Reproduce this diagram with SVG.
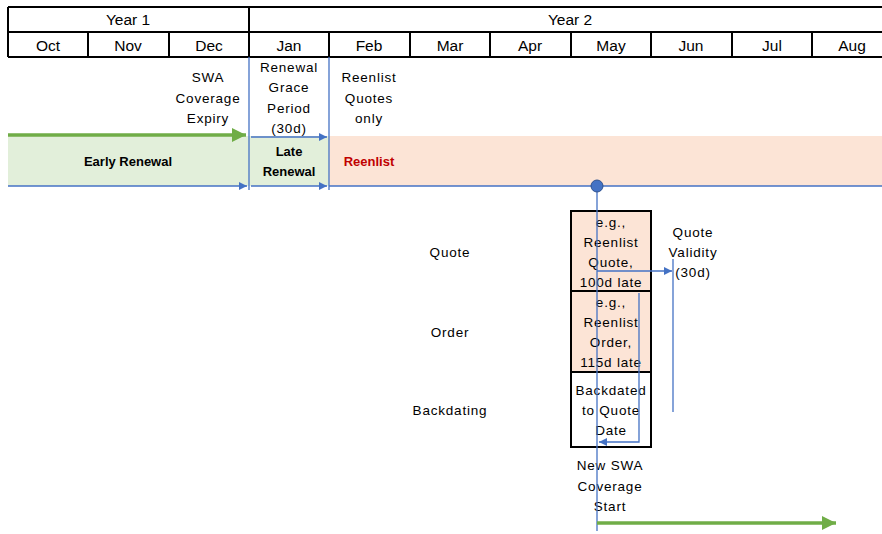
<svg xmlns="http://www.w3.org/2000/svg" width="882" height="534" viewBox="0 0 882 534">
<defs>
<style>
text{font-family:"Liberation Sans",Arial,sans-serif;fill:#000;}
.hd{font-size:15.5px;text-anchor:middle;}
.lb{font-size:13.5px;text-anchor:middle;letter-spacing:0.8px;}
.bd{font-size:13px;text-anchor:middle;font-weight:bold;}
.grid{stroke:#000;stroke-width:2;fill:none;}
.blue{stroke:#4472c4;stroke-width:1.3;fill:none;}
.box{stroke:#000;stroke-width:2;}
</style>
<marker id="ab" viewBox="0 0 10 10" refX="10" refY="5" markerWidth="8" markerHeight="8" markerUnits="userSpaceOnUse" orient="auto"><path d="M0,0 L10,5 L0,10 z" fill="#4472c4"/></marker>
<marker id="ag" viewBox="0 0 10 10" refX="10" refY="5" markerWidth="14" markerHeight="14" markerUnits="userSpaceOnUse" orient="auto"><path d="M0,0 L10,5 L0,10 z" fill="#70ad47"/></marker>
</defs>
<rect width="882" height="534" fill="#fff"/>
<g id="header">
<path class="grid" d="M8,7 H882 M8,32 H882 M8,57 H882 M8,7 V57 M249,7 V57 M88,32 V57 M169,32 V57 M329,32 V57 M410,32 V57 M490,32 V57 M571,32 V57 M651,32 V57 M732,32 V57 M812,32 V57"/>
<text class="hd" x="128" y="25">Year 1</text>
<text class="hd" x="570" y="25">Year 2</text>
<text class="hd" x="48" y="51">Oct</text>
<text class="hd" x="128" y="51">Nov</text>
<text class="hd" x="209" y="51">Dec</text>
<text class="hd" x="289" y="51">Jan</text>
<text class="hd" x="369" y="51">Feb</text>
<text class="hd" x="450" y="51">Mar</text>
<text class="hd" x="530" y="51">Apr</text>
<text class="hd" x="611" y="51">May</text>
<text class="hd" x="691" y="51">Jun</text>
<text class="hd" x="772" y="51">Jul</text>
<text class="hd" x="852" y="51">Aug</text>
</g>
<g id="bands">
<rect x="8" y="136" width="321" height="50" fill="#e2efda"/>
<rect x="329" y="136" width="553" height="50" fill="#fce4d6"/>
<text class="bd" x="128" y="166">Early Renewal</text>
<text class="bd" x="289" y="156">Late</text>
<text class="bd" x="289" y="176">Renewal</text>
<text class="bd" x="369" y="166" style="fill:#c00000">Reenlist</text>
</g>
<g id="top-labels">
<text class="lb" x="208" y="82">SWA</text>
<text class="lb" x="208" y="103">Coverage</text>
<text class="lb" x="208" y="123">Expiry</text>
<text class="lb" x="289" y="72">Renewal</text>
<text class="lb" x="289" y="92">Grace</text>
<text class="lb" x="289" y="113">Period</text>
<text class="lb" x="289" y="133">(30d)</text>
<text class="lb" x="369" y="82">Reenlist</text>
<text class="lb" x="369" y="103">Quotes</text>
<text class="lb" x="369" y="123">only</text>
</g>
<g id="row-labels">
<text class="lb" x="450" y="257">Quote</text>
<text class="lb" x="450" y="337">Order</text>
<text class="lb" x="450" y="415">Backdating</text>
</g>
<g id="box-quote">
<rect class="box" x="571" y="211" width="80" height="80" fill="#fce4d6"/>
<text class="lb" x="611" y="227">e.g.,</text>
<text class="lb" x="611" y="247">Reenlist</text>
<text class="lb" x="611" y="267">Quote,</text>
<text class="lb" x="611" y="287">100d late</text>
</g>
<g id="box-order">
<rect class="box" x="571" y="291" width="80" height="81" fill="#fce4d6"/>
<text class="lb" x="611" y="307">e.g.,</text>
<text class="lb" x="611" y="327">Reenlist</text>
<text class="lb" x="611" y="347">Order,</text>
<text class="lb" x="611" y="367">115d late</text>
</g>
<g id="box-backdating">
<rect class="box" x="571" y="372" width="80" height="75" fill="#fff"/>
<text class="lb" x="611" y="395">Backdated</text>
<text class="lb" x="611" y="415">to Quote</text>
<text class="lb" x="611" y="435">Date</text>
</g>
<g id="side-labels">
<text class="lb" x="693" y="237">Quote</text>
<text class="lb" x="693" y="257">Validity</text>
<text class="lb" x="693" y="277">(30d)</text>
<text class="lb" x="610" y="470">New SWA</text>
<text class="lb" x="610" y="491">Coverage</text>
<text class="lb" x="610" y="511">Start</text>
</g>
<g id="connectors">
<line class="blue" x1="249" y1="57" x2="249" y2="190"/>
<line class="blue" x1="329" y1="57" x2="329" y2="190"/>
<line class="blue" x1="8" y1="186" x2="247" y2="186" marker-end="url(#ab)"/>
<line class="blue" x1="251" y1="186" x2="327" y2="186" marker-end="url(#ab)"/>
<line class="blue" x1="251" y1="137" x2="327" y2="137" marker-end="url(#ab)"/>
<line class="blue" x1="329" y1="186" x2="882" y2="186"/>
<line x1="8" y1="135" x2="246" y2="135" stroke="#70ad47" stroke-width="3.5" marker-end="url(#ag)"/>
<line class="blue" x1="597" y1="186" x2="597" y2="531"/>
<circle cx="597" cy="186" r="6" fill="#4472c4" stroke="#2f528f" stroke-width="1"/>
<line class="blue" x1="597" y1="271" x2="672" y2="271" marker-end="url(#ab)"/>
<line class="blue" x1="673" y1="259" x2="673" y2="412"/>
<polyline class="blue" points="639,293 639,442 599,442" marker-end="url(#ab)"/>
<line x1="597" y1="523" x2="836" y2="523" stroke="#70ad47" stroke-width="3.5" marker-end="url(#ag)"/>
</g>
</svg>
